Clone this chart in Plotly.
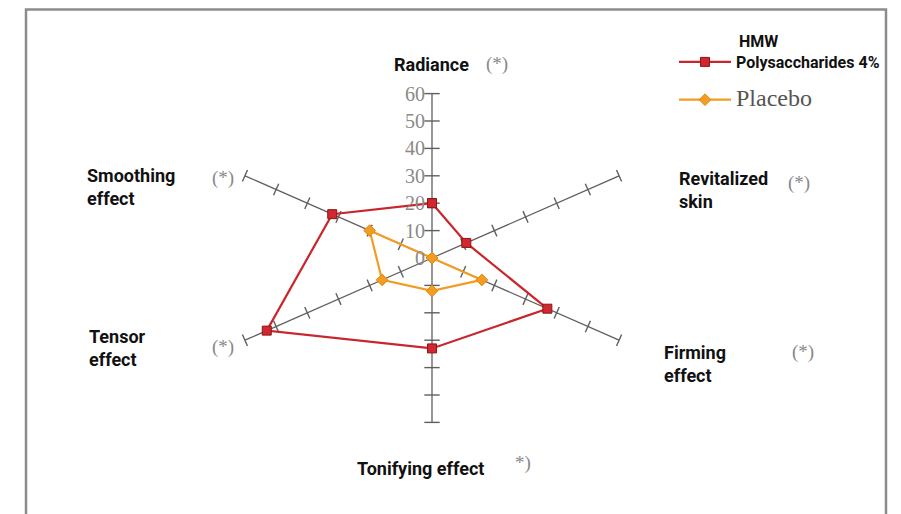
import math
import plotly.graph_objects as go

# categories, clockwise from the top
categories = ["Radiance", "Revitalized skin", "Firming effect",
              "Tonifying effect", "Tensor effect", "Smoothing effect"]
hmw_values = [20, 11, 37, 33, 53, 32]
placebo_values = [0, 0, 16, 12, 16, 20]
axis_ticks = [0, 10, 20, 30, 40, 50, 60]
axis_max = 60

W, H = 901, 514
OFF = 8                     # page body margin, px
cx, cy = 432 - OFF, 258 - OFF   # centre of the web, px in the figure
sx, sy = 3.6, 2.74          # px per unit (image is stretched horizontally)

n = len(categories)


def to_xy(r, i):
    th = math.radians(360 * i / n)
    return r * math.sin(th), r * math.cos(th)


def closed(values):
    xs, ys = [], []
    for i, v in enumerate(values + values[:1]):
        x, y = to_xy(v, i % n)
        xs.append(x)
        ys.append(y)
    return xs, ys


fig = go.Figure()

# spokes
for i in range(n):
    x, y = to_xy(axis_max, i)
    fig.add_trace(go.Scatter(x=[0, x], y=[0, y], mode="lines",
                             line=dict(color="#5f5f5f", width=1.3),
                             showlegend=False, hoverinfo="skip"))

# tick marks on every spoke, perpendicular to it on screen
for i in range(n):
    th = math.radians(360 * i / n)
    phi = math.degrees(math.atan2(math.cos(th) * sy, math.sin(th) * sx))
    xs, ys = [], []
    for t in axis_ticks[1:]:
        x, y = to_xy(t, i)
        xs.append(x)
        ys.append(y)
    fig.add_trace(go.Scatter(x=xs, y=ys, mode="markers",
                             marker=dict(symbol="line-ew", size=9 if i % 3 else 11,
                                         angle=-(phi + 90),
                                         line=dict(color="#5f5f5f", width=1.4)),
                             showlegend=False, hoverinfo="skip"))

xp, yp = closed(placebo_values)
fig.add_trace(go.Scatter(x=xp, y=yp, mode="lines+markers", legendrank=2, legendgroup="b",
                         name="<span style='font-family:Liberation Serif;font-size:24px;color:#555'>Placebo</span>",
                         line=dict(color="#f39c24", width=2.2),
                         marker=dict(symbol="diamond", size=9, color="#f39c24",
                                     line=dict(color="#e08a10", width=1))))

xh, yh = closed(hmw_values)
fig.add_trace(go.Scatter(x=xh, y=yh, mode="lines+markers", legendrank=1, legendgroup="a",
                         name="<b>Polysaccharides 4%</b>",
                         line=dict(color="#c8262c", width=2.2),
                         marker=dict(symbol="square", size=9, color="#d0282e",
                                     line=dict(color="#8e1518", width=1))))

# radial tick labels on the Radiance axis
for t in axis_ticks:
    fig.add_annotation(x=0, y=t, text=str(t), showarrow=False, xanchor="right",
                       yanchor="middle", xshift=-5,
                       font=dict(family="Liberation Serif", size=20, color="#8a8a8a"))


def px_x(p):
    return (p - OFF) / W


def px_y(p):
    return 1 - (p - OFF) / H


label_font = dict(family="Roboto", size=18, color="#111")
star_font = dict(family="Liberation Serif", size=19, color="#888")

labels = [
    ("<b>Radiance</b>", 431, 64, "center"),
    ("<b>Revitalized<br>skin</b>", 677, 190, "left"),
    ("<b>Firming<br>effect</b>", 662, 364, "left"),
    ("<b>Tonifying effect</b>", 420, 468, "center"),
    ("<b>Tensor<br>effect</b>", 87, 348, "left"),
    ("<b>Smoothing<br>effect</b>", 85, 187, "left"),
]
for text, x, y, anchor in labels:
    fig.add_annotation(x=px_x(x), y=px_y(y), xref="paper", yref="paper", text=text,
                       showarrow=False, xanchor=anchor, yanchor="middle", align="left",
                       font=label_font)

stars = [("(*)", 497, 64), ("(*)", 799, 183), ("(*)", 803, 352),
         ("*)", 523, 463), ("(*)", 223, 347), ("(*)", 223, 178)]
for text, x, y in stars:
    fig.add_annotation(x=px_x(x), y=px_y(y), xref="paper", yref="paper", text=text,
                       showarrow=False, xanchor="center", yanchor="middle", font=star_font)

# first line of the HMW legend entry
fig.add_annotation(x=px_x(737), y=px_y(42), xref="paper", yref="paper", text="<b>HMW</b>",
                   showarrow=False, xanchor="left", yanchor="middle",
                   font=dict(family="Roboto", size=16, color="#111"))

# outer frame
fig.add_shape(type="rect", xref="paper", yref="paper",
              x0=px_x(26), x1=px_x(886), y0=-0.1, y1=px_y(9.5),
              line=dict(color="#8c8c8c", width=2.5))

fig.update_xaxes(range=[-cx / sx, (W - cx) / sx], visible=False)
fig.update_yaxes(range=[-(H - cy) / sy, cy / sy], visible=False)

fig.update_layout(
    width=W, height=H,
    margin=dict(l=0, r=0, t=0, b=0),
    plot_bgcolor="white", paper_bgcolor="white",
    font=dict(family="Roboto"),
    legend=dict(x=px_x(674), y=px_y(45), xanchor="left", yanchor="top",
                traceorder="grouped", bgcolor="rgba(0,0,0,0)",
                font=dict(family="Roboto", size=16, color="#111"),
                itemwidth=52, tracegroupgap=14),
)

fig.write_html("out.html")
